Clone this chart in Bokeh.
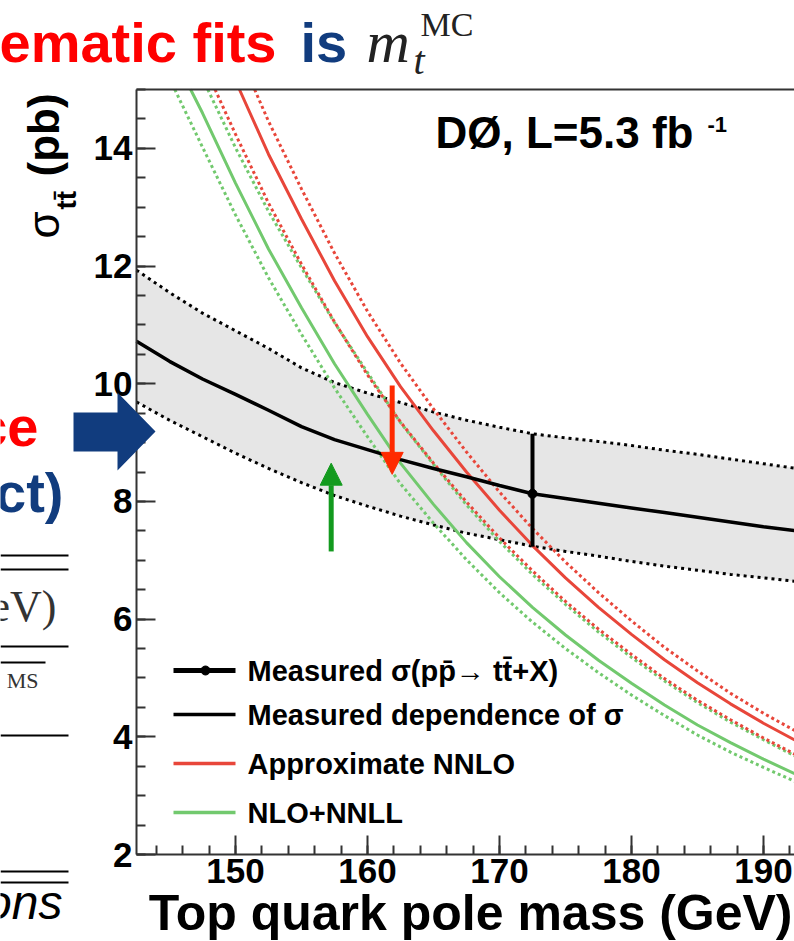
from bokeh.plotting import figure
from bokeh.models import (Range1d, LinearAxis, SingleIntervalTicker, Label, Arrow,
                          NormalHead, PolyAnnotation)
from bokeh.embed import file_html
from bokeh.resources import INLINE

# ---- data -------------------------------------------------------------
# top quark pole mass grid (GeV) for the measured curves
mass = [142.5, 145, 147.5, 150, 152.5, 155, 157.5, 160, 162.5, 165, 167.5,
        170, 172.5, 175, 177.5, 180, 182.5, 185, 187.5, 190, 192.5]

# measured dependence of the cross section on mass, with its uncertainty band (pb)
meas_central = [10.72, 10.38, 10.08, 9.82, 9.55, 9.27, 9.05, 8.88, 8.71, 8.56, 8.42,
                8.27, 8.13, 8.05, 7.97, 7.89, 7.81, 7.73, 7.65, 7.57, 7.50]
meas_upper = [11.93, 11.55, 11.20, 10.90, 10.60, 10.27, 10.02, 9.84, 9.68, 9.52, 9.38,
              9.26, 9.15, 9.08, 9.02, 8.95, 8.87, 8.80, 8.72, 8.64, 8.56]
meas_lower = [9.69, 9.38, 9.10, 8.82, 8.56, 8.32, 8.10, 7.92, 7.75, 7.60, 7.46,
              7.35, 7.24, 7.15, 7.07, 6.98, 6.90, 6.83, 6.76, 6.70, 6.64]

# approximate NNLO prediction and its band (pb); each starts where it leaves the top at 15 pb
nnlo_mass = [150.3, 152.5, 155, 157.5, 160, 162.5, 165, 167.5, 170, 172.5, 175, 177.5,
             180, 182.5, 185, 187.5, 190, 192.5]
nnlo = [15.00, 13.90, 12.80, 11.75, 10.80, 9.95, 9.20, 8.50, 7.85, 7.25, 6.70, 6.20,
        5.74, 5.31, 4.92, 4.56, 4.23, 3.93]
nnlo_up_mass = [151.45, 152.5, 155, 157.5, 160, 162.5, 165, 167.5, 170, 172.5, 175, 177.5,
                180, 182.5, 185, 187.5, 190, 192.5]
nnlo_up = [15.00, 14.46, 13.31, 12.22, 11.23, 10.35, 9.57, 8.84, 8.16, 7.54, 6.97, 6.45,
           5.97, 5.52, 5.12, 4.74, 4.40, 4.09]
nnlo_dn_mass = [148.45, 150, 152.5, 155, 157.5, 160, 162.5, 165, 167.5, 170, 172.5, 175,
                177.5, 180, 182.5, 185, 187.5, 190, 192.5]
nnlo_dn = [15.00, 14.24, 13.07, 12.03, 11.05, 10.15, 9.35, 8.65, 7.99, 7.38, 6.82, 6.30,
           5.83, 5.40, 4.99, 4.62, 4.29, 3.98, 3.69]

# NLO+NNLL prediction and its band (pb)
nnll_mass = [146.6, 147.5, 150, 152.5, 155, 157.5, 160, 162.5, 165, 167.5, 170, 172.5,
             175, 177.5, 180, 182.5, 185, 187.5, 190, 192.5]
nnll = [15.00, 14.60, 13.41, 12.29, 11.29, 10.34, 9.48, 8.65, 7.95, 7.30, 6.72, 6.20,
        5.73, 5.30, 4.91, 4.54, 4.20, 3.90, 3.62, 3.36]
nnll_up_mass = [147.9, 150, 152.5, 155, 157.5, 160, 162.5, 165, 167.5, 170, 172.5,
                175, 177.5, 180, 182.5, 185, 187.5, 190, 192.5]
nnll_up = [15.00, 14.01, 12.93, 11.97, 11.04, 10.19, 9.34, 8.63, 7.94, 7.32, 6.76,
           6.25, 5.78, 5.35, 4.95, 4.58, 4.25, 3.95, 3.66]
nnll_dn_mass = [145.4, 147.5, 150, 152.5, 155, 157.5, 160, 162.5, 165, 167.5, 170, 172.5,
                175, 177.5, 180, 182.5, 185, 187.5, 190, 192.5]
nnll_dn = [15.00, 14.02, 12.87, 11.80, 10.84, 9.93, 9.10, 8.30, 7.63, 7.01, 6.45, 5.95,
           5.50, 5.09, 4.71, 4.36, 4.03, 3.74, 3.48, 3.23]

# measured cross section at the reference mass
xsec_mass = [172.5]
xsec_value = [8.13]
xsec_err_up = [1.02]
xsec_err_dn = [0.90]

# masses marked by the arrows
arrow_green_mass = 157.25
arrow_red_mass = 161.87

x_tick_step = 10
y_tick_step = 2

# ---- geometry ---------------------------------------------------------
W, H = 794, 941
FL, FR, FT, FB = 136, 794, 89, 854          # edges of the axes box in pixels
X_LO, X_HI = 142.5, 192.35
Y_LO, Y_HI = 2.0, 15.0
KX = (X_HI - X_LO) / (FR - FL)
KY = (Y_HI - Y_LO) / (FB - FT)


def dx(px):
    return X_LO + (px - FL) * KX


def dy(py):
    return Y_LO + (FB - py) * KY


RED = "#e8463a"
GREEN = "#72c96e"
BAND = "#e6e6e6"
NAVY = "#113c7e"
AXIS = "#333333"
FONT = "Liberation Sans"
SERIF = "Liberation Serif"
DESCENT = 0.212     # font descent as a fraction of the font size

# the drawing area spans the whole page; the axes sit at fixed data positions
p = figure(width=W, height=H, output_backend="svg", toolbar_location=None,
           x_range=Range1d(dx(0), dx(W)), y_range=Range1d(dy(H), dy(0)),
           min_border=0, min_border_left=0, min_border_right=0,
           min_border_top=0, min_border_bottom=0,
           x_axis_type=None, y_axis_type=None)
p.outline_line_color = None
p.grid.visible = False
p.background_fill_color = "white"
p.border_fill_color = "white"


def style_axis(ax):
    ax.axis_line_color = AXIS
    ax.axis_line_width = 2
    ax.major_tick_line_color = AXIS
    ax.major_tick_line_width = 2
    ax.minor_tick_line_color = AXIS
    ax.minor_tick_line_width = 2
    ax.major_tick_out = 0
    ax.minor_tick_out = 0
    ax.major_tick_in = 19
    ax.minor_tick_in = 9
    ax.major_label_text_font = FONT
    ax.major_label_text_font_style = "bold"
    ax.major_label_text_font_size = "35px"
    ax.major_label_text_color = "black"
    ax.major_label_standoff = 4


xax = LinearAxis(ticker=SingleIntervalTicker(interval=x_tick_step, num_minor_ticks=5),
                 fixed_location=Y_LO, bounds=(X_LO, X_HI))
style_axis(xax)
p.add_layout(xax, "below")

yax = LinearAxis(ticker=SingleIntervalTicker(interval=y_tick_step, num_minor_ticks=4),
                 fixed_location=X_LO, bounds=(Y_LO, Y_HI))
style_axis(yax)
p.add_layout(yax, "left")

# top edge of the axes box
p.add_layout(Arrow(start=None, end=None, x_start=X_LO, y_start=Y_HI, x_end=X_HI + 1,
                   y_end=Y_HI, line_color=AXIS, line_width=2))

# ---- measured band ----------------------------------------------------------
p.varea(x=mass, y1=meas_lower, y2=meas_upper, fill_color=BAND)
p.line(mass, meas_upper, line_color="black", line_width=3, line_dash="3 4")
p.line(mass, meas_lower, line_color="black", line_width=3, line_dash="3 4")

# ---- theory curves ------------------------------------------------------------
p.line(nnll_up_mass, nnll_up, line_color=GREEN, line_width=3, line_dash="3 3")
p.line(nnll_dn_mass, nnll_dn, line_color=GREEN, line_width=3, line_dash="3 3")
p.line(nnll_mass, nnll, line_color=GREEN, line_width=3)
p.line(nnlo_up_mass, nnlo_up, line_color=RED, line_width=3, line_dash="3 3")
p.line(nnlo_dn_mass, nnlo_dn, line_color=RED, line_width=3, line_dash="3 3")
p.line(nnlo_mass, nnlo, line_color=RED, line_width=3)

# ---- measurement ----------------------------------------------------------------
p.line(mass, meas_central, line_color="black", line_width=3.5)
p.segment(x0=xsec_mass, y0=[v - e for v, e in zip(xsec_value, xsec_err_dn)],
          x1=xsec_mass, y1=[v + e for v, e in zip(xsec_value, xsec_err_up)],
          line_color="black", line_width=4)
p.scatter(xsec_mass, xsec_value, size=9, color="black")

# ---- arrows on the crossings ------------------------------------------------------
p.add_layout(Arrow(end=NormalHead(size=22, fill_color="#139a1e", line_color="#139a1e"),
                   x_start=arrow_green_mass, y_start=7.15,
                   x_end=arrow_green_mass, y_end=8.65,
                   line_color="#139a1e", line_width=5))
p.add_layout(Arrow(end=NormalHead(size=22, fill_color="#ff2a00", line_color="#ff2a00"),
                   x_start=arrow_red_mass, y_start=9.97,
                   x_end=arrow_red_mass, y_end=8.46,
                   line_color="#ff2a00", line_width=5))


def text(px, py, s, size, color="black", font=FONT, style="normal", align="left",
         angle=0.0):
    """Place a label whose baseline sits at pixel (px, py); rotated labels use px."""
    d = DESCENT * size
    if angle:
        x, y = px + d, py
    else:
        x, y = px, py + d
    p.add_layout(Label(x=dx(x), y=dy(y), text=s, text_font=font, text_font_style=style,
                       text_font_size=f"{size}px", text_color=color, text_align=align,
                       text_baseline="bottom", angle=angle))


# ---- legend -------------------------------------------------------------------------
legend_rows = [
    ("Measured σ(pp̄→ tt̄+X)", "black", 5, 670),
    ("Measured dependence of σ", "black", 3.5, 714),
    ("Approximate NNLO", RED, 3.5, 763),
    ("NLO+NNLL", GREEN, 3.5, 812),
]
for label, col, lw, py in legend_rows:
    p.line([dx(173), dx(235)], [dy(py), dy(py)], line_color=col, line_width=lw)
    p.add_layout(Label(x=dx(247), y=dy(py), text=label, text_font=FONT,
                       text_font_style="bold", text_font_size="29px",
                       text_baseline="middle", text_color="black"))
p.scatter([dx(205)], [dy(670)], size=9, color="black")

# ---- experiment tag --------------------------------------------------------------------
text(435, 147, "DØ, L=5.3 fb", 44, style="bold")
text(707, 127, "-1", 22, style="bold")

# ---- axis titles ----------------------------------------------------------------------
text(792, 930, "Top quark pole mass (GeV)", 50, style="bold", align="right")
text(58, 238, "σ", 44, angle=1.5708)
text(76, 209, "tt̄", 28, style="bold", angle=1.5708)
text(58, 176, "(pb)", 44, style="bold", angle=1.5708)

# ---- slide text around the figure -------------------------------------------------------
text(-1, 62, "ematic fits", 56, color="#ff0000", style="bold")
text(300, 62, "is", 56, color=NAVY, style="bold")
text(366, 62, "m", 60, color="#222222", font=SERIF, style="italic")
text(413, 74, "t", 40, color="#222222", font=SERIF, style="italic")
text(420, 35, "MC", 34, color="#222222", font=SERIF)

text(38, 446, "ce", 56, color="#ff0000", style="bold", align="right")
text(63, 512, "ct)", 56, color=NAVY, style="bold", align="right")
text(56, 621, "eV)", 44, color="#333333", font=SERIF, align="right")
text(38, 688, "MS", 22, color="#333333", font=SERIF, align="right")
text(62, 918, "ons", 48, style="italic", align="right")

for py, x_end in [(555, 68), (569, 68), (646, 68), (662, 45), (735, 68), (871, 68), (882, 68)]:
    p.add_layout(Arrow(start=None, end=None, x_start=dx(0), y_start=dy(py),
                       x_end=dx(x_end), y_end=dy(py), line_color="black", line_width=2))

# big pointer arrow
p.add_layout(PolyAnnotation(
    xs=[dx(73), dx(117), dx(117), dx(155), dx(117), dx(117), dx(73)],
    ys=[dy(412), dy(412), dy(392), dy(431), dy(470), dy(451), dy(451)],
    fill_color=NAVY, fill_alpha=1.0, line_color=None, level="overlay"))

with open("out.html", "w") as f:
    f.write(file_html(p, INLINE))
